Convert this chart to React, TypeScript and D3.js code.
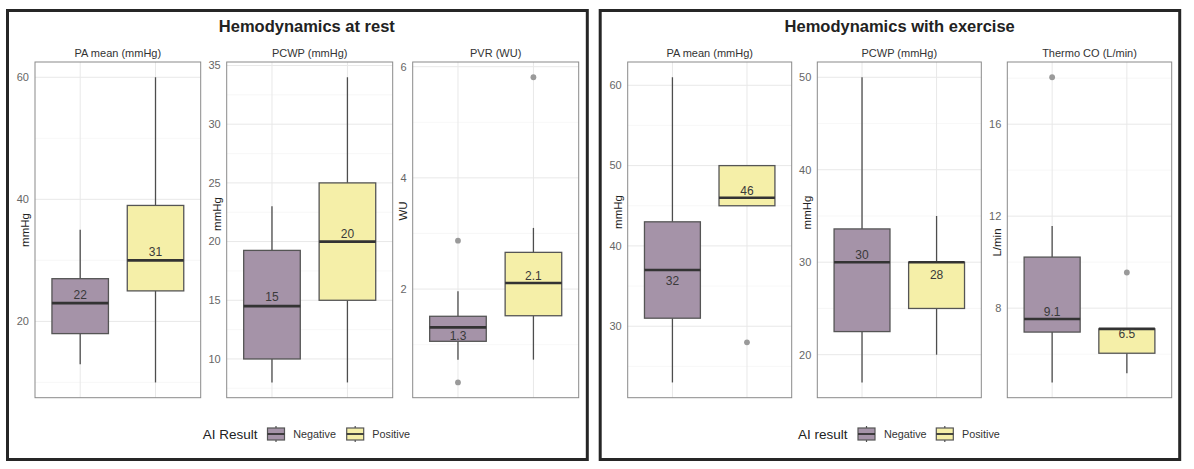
import React from "react";
import * as d3 from "d3";

const groups = ["Negative", "Positive"];
const groupFill = ["#a593a8", "#f5efa8"];

// ---- Rest ----
const restTitle = "Hemodynamics at rest";
const restLegendTitle = "AI Result";
const restPanelNames = ["PA mean (mmHg)", "PCWP (mmHg)", "PVR (WU)"];
const restUnits = ["mmHg", "mmHg", "WU"];
const restTicks = [[20, 40, 60], [10, 15, 20, 25, 30, 35], [2, 4, 6]];
// [lowWhisker, q1, median, q3, highWhisker] for Negative, Positive
const restStats = [
  [[13, 18, 23, 27, 35], [10, 25, 30, 39, 60]],
  [[8, 10, 14.5, 19.25, 23], [8, 15, 20, 25, 34]],
  [[0.73, 1.06, 1.31, 1.51, 1.96], [0.73, 1.52, 2.11, 2.66, 3.1]],
];
const restOutliers = [[[], []], [[], []], [[0.32, 2.87], [5.81]]];
const restMeans = [["22", "31"], ["15", "20"], ["1.3", "2.1"]];
const restLabelY = [[24.3, 31.4], [15.3, 20.7], [1.16, 2.24]];

// ---- Exercise ----
const exTitle = "Hemodynamics with exercise";
const exLegendTitle = "AI result";
const exPanelNames = ["PA mean (mmHg)", "PCWP (mmHg)", "Thermo CO (L/min)"];
const exUnits = ["mmHg", "mmHg", "L/min"];
const exTicks = [[30, 40, 50, 60], [20, 30, 40, 50], [8, 12, 16]];
const exStats = [
  [[23, 31, 37, 43, 61], [45, 45, 46, 50, 50]],
  [[17, 22.5, 30, 33.6, 50], [20, 25, 30, 30, 35]],
  [[4.77, 6.96, 7.53, 10.22, 11.57], [5.17, 6.04, 7.1, 7.1, 7.1]],
];
const exOutliers = [[[], [28]], [[], []], [[18.04], [9.55]]];
const exMeans = [["32", "46"], ["30", "28"], ["9.1", "6.5"]];
const exLabelY = [[35.7, 46.9], [30.8, 28.66], [7.85, 6.91]];

const FONT = "'Liberation Sans', Arial, Helvetica, sans-serif";
const PTOP = 62;
const PBOT = 397.7;

type PanelProps = {
  x0: number;
  x1: number;
  titleY: number;
  name: string;
  unit: string;
  ticks: number[];
  stats: number[][];
  outliers: number[][];
  means: string[];
  labelY: number[];
};

function Panel({ x0, x1, titleY, name, unit, ticks, stats, outliers, means, labelY }: PanelProps) {
  const all: number[] = [];
  stats.forEach((s) => all.push(s[0], s[4]));
  outliers.forEach((o) => all.push(...o));
  const [mn, mx] = d3.extent(all) as [number, number];
  const pad = (mx - mn) * 0.05;
  const y = d3.scaleLinear().domain([mn - pad, mx + pad]).range([PBOT, PTOP]);
  const x = d3.scalePoint<string>().domain(groups).range([x0, x1]).padding(0.6);
  const step = x.step();
  const bw = step * 0.75;
  const half = (ticks[1] - ticks[0]) / 2;
  const minor: number[] = [];
  for (let i = -1; i < ticks.length; i++) {
    const v = (i < 0 ? ticks[0] - half * 2 : ticks[i]) + half;
    const [a, b] = y.domain();
    if (v > a && v < b) minor.push(v);
  }
  return (
    <g>
      <text x={(x0 + x1) / 2} y={56.5} textAnchor="middle" fontSize={11} fill="#333">
        {name}
      </text>
      {minor.map((v) => (
        <line key={"mi" + v} x1={x0} x2={x1} y1={y(v)} y2={y(v)} stroke="#f3f3f3" strokeWidth={0.7} />
      ))}
      {ticks.map((v) => (
        <line key={"ma" + v} x1={x0} x2={x1} y1={y(v)} y2={y(v)} stroke="#e8e8e8" strokeWidth={1} />
      ))}
      {groups.map((g) => (
        <line key={"v" + g} x1={x(g)} x2={x(g)} y1={PTOP} y2={PBOT} stroke="#e8e8e8" strokeWidth={1} />
      ))}
      {ticks.map((v) => (
        <text key={"t" + v} x={x0 - 6} y={y(v)} dy="0.35em" textAnchor="end" fontSize={11} fill="#666">
          {v}
        </text>
      ))}
      <text
        transform={`translate(${x0 - 10},${titleY}) rotate(-90)`}
        textAnchor="middle"
        dy="0.35em"
        fontSize={11.5}
        fill="#222"
      >
        {unit}
      </text>
      {groups.map((g, i) => {
        const s = stats[i];
        const cx = x(g) as number;
        return (
          <g key={g}>
            <line x1={cx} x2={cx} y1={y(s[0])} y2={y(s[1])} stroke="#4d4d4d" strokeWidth={1.3} />
            <line x1={cx} x2={cx} y1={y(s[3])} y2={y(s[4])} stroke="#4d4d4d" strokeWidth={1.3} />
            <rect
              x={cx - bw / 2}
              y={y(s[3])}
              width={bw}
              height={y(s[1]) - y(s[3])}
              fill={groupFill[i]}
              stroke="#555"
              strokeWidth={1.3}
            />
            <line x1={cx - bw / 2} x2={cx + bw / 2} y1={y(s[2])} y2={y(s[2])} stroke="#333" strokeWidth={2.6} />
            {outliers[i].map((o, k) => (
              <circle key={k} cx={cx} cy={y(o)} r={2.9} fill="#9a9a9a" />
            ))}
            <text x={cx} y={y(labelY[i])} dy="0.36em" textAnchor="middle" fontSize={12} fill="#3a3a3a">
              {means[i]}
            </text>
          </g>
        );
      })}
      <rect x={x0} y={PTOP} width={x1 - x0} height={PBOT - PTOP} fill="none" stroke="#8a8a8a" strokeWidth={1} />
    </g>
  );
}

type LegendProps = { title: string; xs: number[] };
function Legend({ title, xs }: LegendProps) {
  const cy = 434;
  return (
    <g>
      <text x={xs[0]} y={cy + 4.6} fontSize={13.5} fill="#222">
        {title}
      </text>
      {groups.map((g, i) => {
        const kx = xs[1 + i * 2];
        const lx = xs[2 + i * 2];
        return (
          <g key={g}>
            <line x1={kx + 8.5} x2={kx + 8.5} y1={cy - 8} y2={cy + 8} stroke="#4d4d4d" strokeWidth={1.2} />
            <rect x={kx} y={cy - 6} width={17} height={12} fill={groupFill[i]} stroke="#555" strokeWidth={1.2} />
            <line x1={kx} x2={kx + 17} y1={cy} y2={cy} stroke="#333" strokeWidth={1.8} />
            <text x={lx} y={cy + 3.8} fontSize={10.8} fill="#333">
              {g}
            </text>
          </g>
        );
      })}
    </g>
  );
}

type PlotProps = {
  fx0: number;
  fx1: number;
  title: string;
  legendTitle: string;
  legendXs: number[];
  panelX: number[][];
  titleYs: number[];
  names: string[];
  units: string[];
  ticks: number[][];
  stats: number[][][];
  outliers: number[][][];
  means: string[][];
  labelY: number[][];
};

function Plot(p: PlotProps) {
  const cx = (p.panelX[0][0] + p.panelX[2][1]) / 2;
  return (
    <g>
      <rect x={p.fx0} y={10.5} width={p.fx1 - p.fx0} height={449} fill="#fff" stroke="#262626" strokeWidth={3} />
      <text x={cx} y={31.5} textAnchor="middle" fontSize={16.5} fontWeight="bold" fill="#222">
        {p.title}
      </text>
      {p.names.map((n, i) => (
        <Panel
          key={i}
          x0={p.panelX[i][0]}
          x1={p.panelX[i][1]}
          titleY={p.titleYs[i]}
          name={n}
          unit={p.units[i]}
          ticks={p.ticks[i]}
          stats={p.stats[i]}
          outliers={p.outliers[i]}
          means={p.means[i]}
          labelY={p.labelY[i]}
        />
      ))}
      <Legend title={p.legendTitle} xs={p.legendXs} />
    </g>
  );
}

export default function App() {
  return (
    <svg
      width={1194}
      height={469}
      style={{ position: "absolute", left: 0, top: 0, background: "#fff" }}
      fontFamily={FONT}
    >
      <Plot
        fx0={7.5}
        fx1={587.3}
        title={restTitle}
        legendTitle={restLegendTitle}
        legendXs={[202.7, 267.5, 293.3, 346.7, 372.3]}
        panelX={[
          [35, 200.7],
          [226.7, 392.7],
          [412.7, 578.7],
        ]}
        titleYs={[230, 214, 211]}
        names={restPanelNames}
        units={restUnits}
        ticks={restTicks}
        stats={restStats}
        outliers={restOutliers}
        means={restMeans}
        labelY={restLabelY}
      />
      <Plot
        fx0={600.2}
        fx1={1179.7}
        title={exTitle}
        legendTitle={exLegendTitle}
        legendXs={[798, 858, 884, 936.3, 962]}
        panelX={[
          [627.7, 791.7],
          [817.3, 981.3],
          [1007.3, 1171.7],
        ]}
        titleYs={[212, 212.5, 242.5]}
        names={exPanelNames}
        units={exUnits}
        ticks={exTicks}
        stats={exStats}
        outliers={exOutliers}
        means={exMeans}
        labelY={exLabelY}
      />
    </svg>
  );
}
